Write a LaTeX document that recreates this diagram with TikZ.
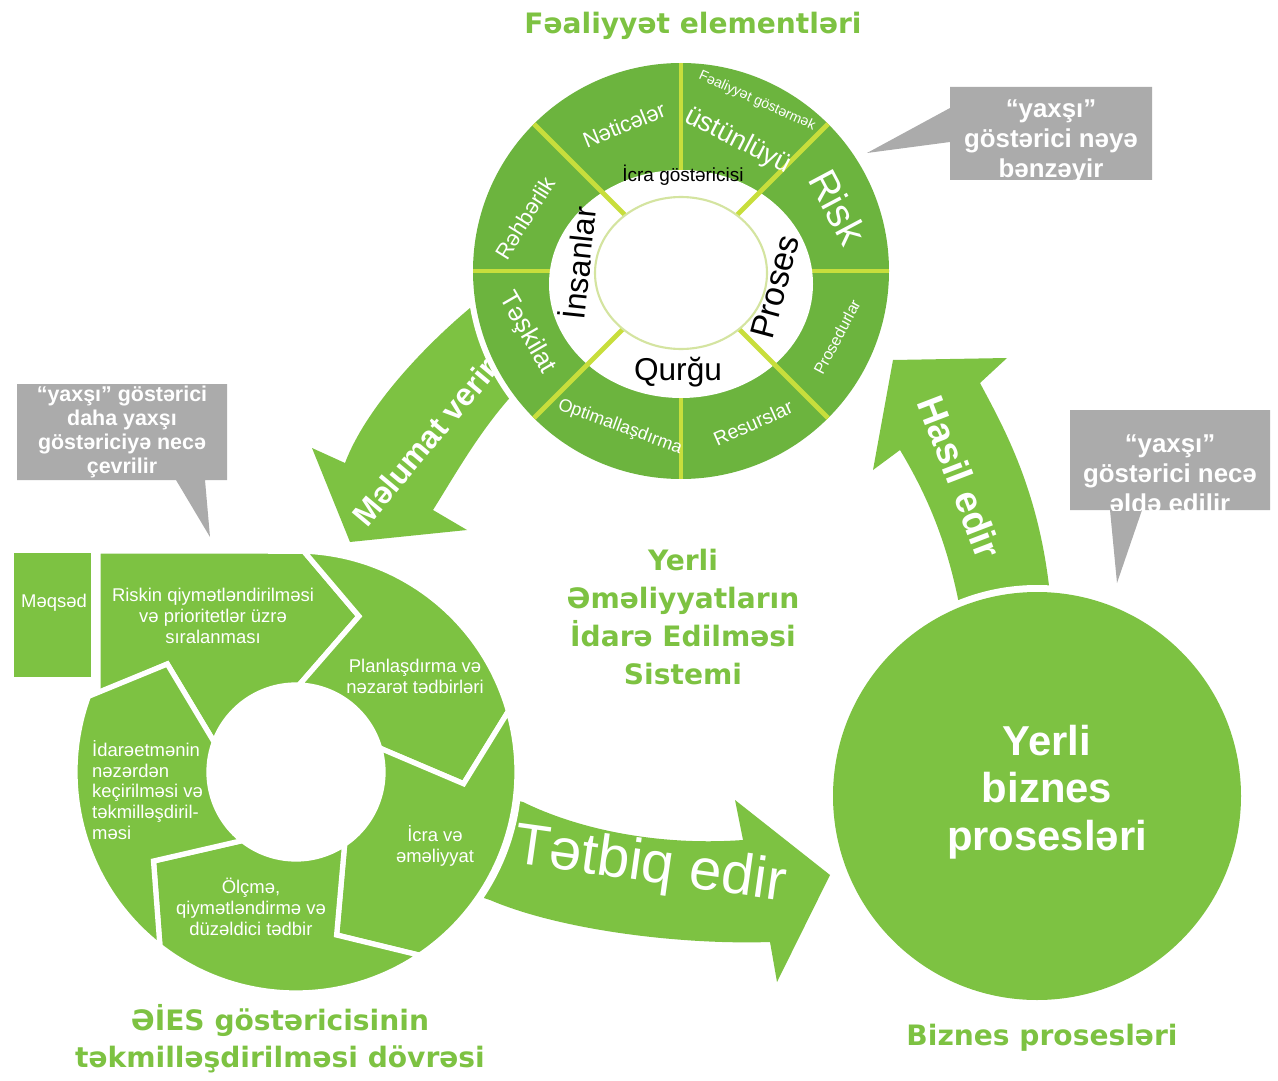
\documentclass[tikz,border=0pt]{standalone}
\usepackage{fontspec}
\setmainfont{Liberation Sans}
\newfontfamily\headfont{DejaVu Sans}
\usetikzlibrary{calc}

\definecolor{leafgreen}{RGB}{125,194,66}
\definecolor{ringgreen}{RGB}{108,180,62}
\definecolor{limeline}{RGB}{200,222,60}
\definecolor{bubblegray}{RGB}{171,171,171}
\definecolor{innerrim}{RGB}{212,228,160}

\tikzset{
  headline/.style={text=leafgreen, align=center, font=\headfont\bfseries\fontsize{16}{21.5}\selectfont},
  bubbletext/.style={text=white, align=center, font=\bfseries\fontsize{14.7}{17}\selectfont},
  steptext/.style={text=white, align=center, font=\fontsize{10.5}{11.9}\selectfont},
  arrowtext/.style={text=white, font=\bfseries},
  ringtext/.style={text=white},
  bandtext/.style={text=black},
  cycpiece/.style={fill=leafgreen, draw=white, line width=3pt, line join=miter},
  divider/.style={limeline, line width=2.8pt},
}

\begin{document}
\begin{tikzpicture}[x=0.02cm, y=0.02cm]
      \useasboundingbox (0,0) rectangle (1278,-1081);
      \coordinate (ring) at (681,-271);
      \coordinate (cyc) at (296,-772);
      \coordinate (biz) at (1037,-796);

      % the three broad arrows, drawn first so the discs cover their ends
      \fill[leafgreen] (540,-330) -- (470,-308) .. controls (420,-350) and (365,-410) .. (345,-463)
            -- (312,-448) -- (350,-542) -- (467,-530) -- (433,-510)
            .. controls (455,-475) and (480,-430) .. (515,-392) -- cycle;
      \node at (425,-442) [arrowtext, rotate=50, font=\bfseries\fontsize{18}{18}\selectfont] (inform) {Məlumat verir};

      \fill[leafgreen] (893,-360) -- (1007,-358) -- (980,-383) .. controls (1005,-430) and (1045,-500) .. (1052,-620)
            -- (962,-620) .. controls (950,-550) and (930,-500) .. (900,-450) -- (873,-470) -- cycle;
      \node at (960,-477) [arrowtext, rotate=-69, font=\bfseries\fontsize{21.5}{21.5}\selectfont] (yield) {Hasil edir};

      \fill[leafgreen] (470,-790) -- (523,-802) .. controls (580,-830) and (660,-846) .. (743,-840)
            -- (735,-800) -- (830,-875) -- (777,-982) -- (770,-942)
            .. controls (680,-945) and (560,-930) .. (490,-900) -- (460,-890) -- cycle;
      \node at (650,-867) [ringtext, rotate=-8, font=\fontsize{33}{33}\selectfont] (apply) {Tətbiq edir};

      % white rims
      \fill[white] (ring) circle (214);
      \fill[white] (cyc) circle (226);
      \fill[white] (biz) circle (211);

      % activity elements ring
      \fill[ringgreen] (ring) circle (208);
      \foreach \a in {0,90,180,270}
        \draw[divider] (ring) -- ++(\a:208);
      \fill[white] (681,-284) ellipse [x radius=132, y radius=114];
      \foreach \a in {45,135,225,315}
        \draw[divider] (ring) -- ++(\a:208);
      \filldraw[fill=white, draw=innerrim, line width=1.2pt] (681,-273) ellipse [x radius=86, y radius=76];

      \node at (624,-125) [ringtext, rotate=22, font=\fontsize{12.5}{12.5}\selectfont] (results) {Nəticələr};
      \node at (738,-141) [ringtext, rotate=-27, font=\fontsize{15.3}{15.3}\selectfont] (edge) {üstünlüyü};
      \node at (757,-101) [ringtext, rotate=-24, font=\fontsize{8}{8}\selectfont] (perform) {Fəaliyyət göstərmək};
      \node at (838,-207) [ringtext, rotate=-62, font=\fontsize{22.7}{22.7}\selectfont] (risk) {Risk};
      \node at (837,-337) [ringtext, rotate=62, font=\fontsize{9}{9}\selectfont] (procedures) {Prosedurlar};
      \node at (753,-423) [ringtext, rotate=24, font=\fontsize{11.2}{11.2}\selectfont] (resources) {Resurslar};
      \node at (620,-427) [ringtext, rotate=-20, font=\fontsize{10.2}{10.2}\selectfont] (optimise) {Optimallaşdırma};
      \node at (527,-333) [ringtext, rotate=-60, font=\fontsize{14.7}{14.7}\selectfont] (organisation) {Təşkilat};
      \node at (525,-218) [ringtext, rotate=58, font=\fontsize{12.5}{12.5}\selectfont] (leadership) {Rəhbərlik};

      \node at (683,-175) [bandtext, font=\fontsize{10.8}{10.8}\selectfont] (indicator) {İcra göstəricisi};
      \node at (577,-263) [bandtext, rotate=84, font=\fontsize{18}{18}\selectfont] (people) {İnsanlar};
      \node at (775,-287) [bandtext, rotate=75, font=\fontsize{19.3}{19.3}\selectfont] (process) {Proses};
      \node at (678,-372) [bandtext, font=\fontsize{18}{18}\selectfont] (facility) {Qurğu};

      % improvement cycle
      \path[cycpiece] (11,-550) rectangle (94,-680);
      \path[cycpiece] (98,-551) -- ($(cyc)+(88:221)$) -- ($(cyc)+(68:168)$) -- ($(cyc)+(88:87)$)
            arc[start angle=88, end angle=160, radius=87] -- ($(cyc)+(140:168)$) -- (98,-694) -- cycle;
      \foreach \s in {88,16,-56,-128} {
        \pgfmathsetmacro\e{\s-72}
        \path[cycpiece] ($(cyc)+(\s:221)$) arc[start angle=\s, end angle=\e, radius=221]
              -- ($(cyc)+(\e-20:168)$) -- ($(cyc)+(\e:87)$)
              arc[start angle=\e, end angle=\s, radius=87] -- ($(cyc)+(\s-20:168)$) -- cycle;
      }
      \node at (54,-603) [steptext] (goal) {Məqsəd};
      \node at (213,-616) [steptext] (assess) {Riskin qiymətləndirilməsi\\və prioritetlər üzrə\\sıralanması};
      \node at (415,-676) [steptext] (plan) {Planlaşdırma və\\nəzarət tədbirləri};
      \node at (435,-846) [steptext] (operate) {İcra və\\əməliyyat};
      \node at (251,-907) [steptext] (measure) {Ölçmə,\\qiymətləndirmə və\\düzəldici tədbir};
      \node at (86,-790) [steptext, anchor=west, align=left] (review) {İdarəetmənin\\nəzərdən\\keçirilməsi və\\təkmilləşdiril-\\məsi};

      % business processes
      \fill[leafgreen] (biz) circle (204);
      \node at (1047,-792) [text=white, align=center, font=\bfseries\fontsize{23.8}{27.2}\selectfont] (bizlabel) {Yerli\\biznes\\prosesləri};

      % grey callouts
      \fill[bubblegray] (950,-87) rectangle (1152,-180) (950,-108) -- (867,-153) -- (950,-142) -- cycle;
      \begin{scope}
        \clip (950,-87) rectangle (1152,-180);
        \node at (1051,-141) [bubbletext] (lookslike) {“yaxşı”\\göstərici nəyə\\bənzəyir};
      \end{scope}
      \fill[bubblegray] (1070,-410) rectangle (1270,-510) (1110,-510) -- (1117,-583) -- (1142,-510) -- cycle;
      \begin{scope}
        \clip (1070,-410) rectangle (1270,-510);
        \node at (1170,-474) [bubbletext] (achieved) {“yaxşı”\\göstərici necə\\əldə edilir};
      \end{scope}
      \fill[bubblegray] (17,-384) rectangle (227,-480) (176,-480) -- (210,-537) -- (205,-480) -- cycle;
      \node at (122,-432) [bubbletext, font=\bfseries\fontsize{12.2}{13.6}\selectfont] (better) {“yaxşı” göstərici\\daha yaxşı\\göstəriciyə necə\\çevrilir};

      % green headings
      \node at (693,-26) [headline] (elements) {Fəaliyyət elementləri};
      \node at (683,-617) [headline] (system) {Yerli\\Əməliyyatların\\İdarə Edilməsi\\Sistemi};
      \node at (280,-1039) [headline, font=\headfont\bfseries\fontsize{16}{21}\selectfont] (cycletitle) {ƏİES göstəricisinin\\təkmilləşdirilməsi dövrəsi};
      \node at (1042,-1038) [headline] (processes) {Biznes prosesləri};
\end{tikzpicture}
\end{document}
